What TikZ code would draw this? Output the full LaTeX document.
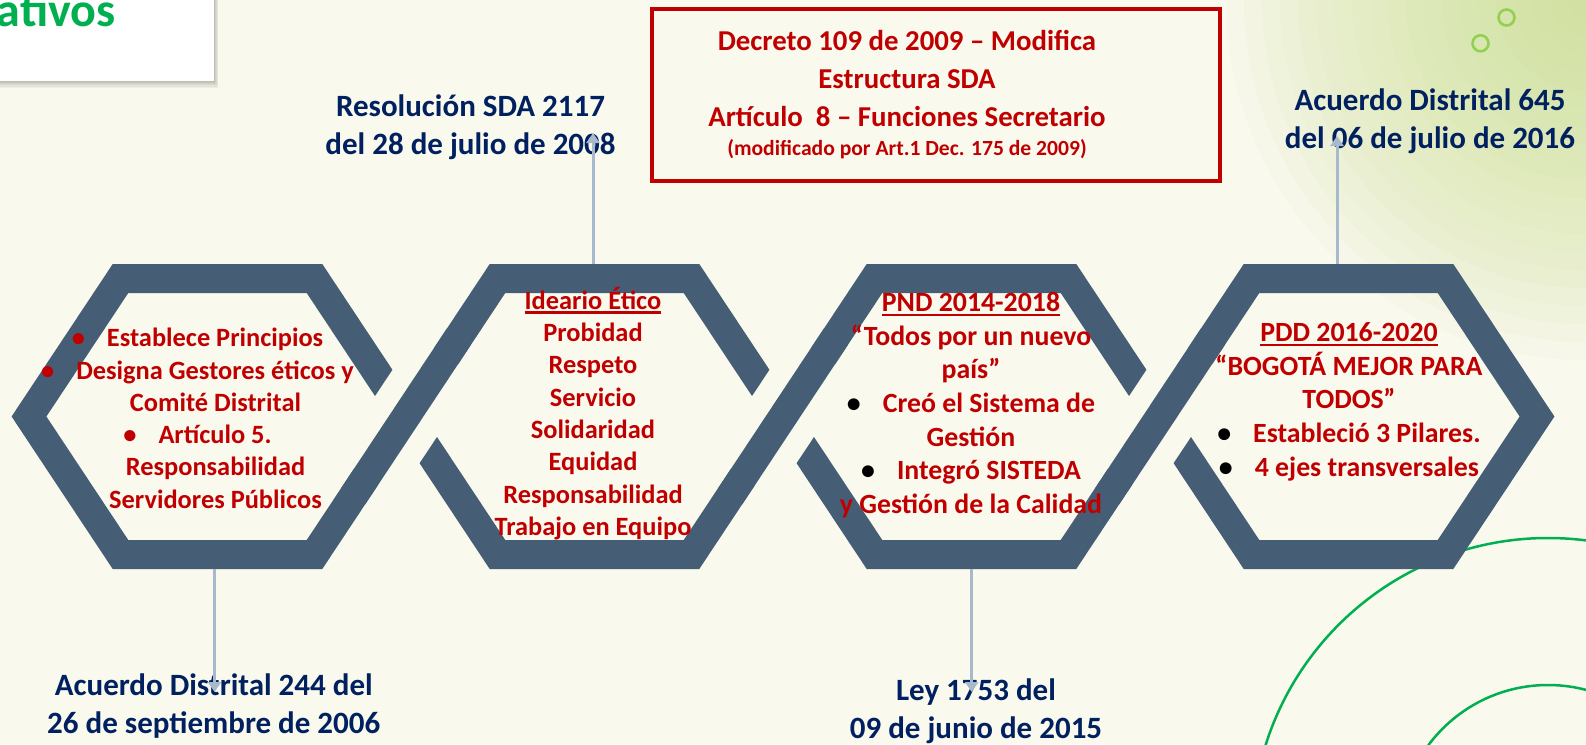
\documentclass[tikz,border=0pt]{standalone}
\usepackage{fontspec}
\setmainfont{Carlito}
\usetikzlibrary{arrows.meta}
\definecolor{fondo}{HTML}{F9F9EE}
\definecolor{hexazul}{HTML}{455E75}
\definecolor{rojo}{HTML}{C00000}
\definecolor{marino}{HTML}{002060}
\definecolor{verde}{HTML}{00B050}
\definecolor{verdeclaro}{HTML}{92D050}
\definecolor{verdetenue}{HTML}{C8DE8B}
\definecolor{enlace}{HTML}{A8B9CD}
\newcommand{\subrayar}[1]{\setbox0=\hbox{#1}\rlap{\rule[-4.3pt]{\wd0}{2.4pt}}\box0}
\tikzset{
	hexline/.style={draw=hexazul, line width=29pt, line join=miter},
	hexmask/.style={draw=fondo, line width=74pt},
	fecha/.style={font=\fontsize{31}{38}\selectfont\bfseries, text=marino, align=center, inner sep=0pt, anchor=base},
	hextxt/.style={font=\fontsize{26.4}{32.3}\selectfont\bfseries, text=rojo, align=center, inner sep=0pt, anchor=base},
	hextxtb/.style={hextxt, font=\fontsize{27.8}{33.6}\selectfont\bfseries},
	conn/.style={draw=enlace, line width=3pt, -{Triangle[length=10pt,width=13pt]}},
}
\begin{document}
\begin{tikzpicture}[x=1pt,y=-1pt]
	\useasboundingbox (0,0) rectangle (1586,744);

	% background
	\fill[fondo] (0,0) rectangle (1586,744);
	\begin{scope}
		\clip (0,0) rectangle (1586,744);
		\foreach \r in {18,36,...,360}
			\fill[verdetenue, opacity=.06] (1586,0) circle (\r);
	\end{scope}
	\draw[verdeclaro, line width=2.6pt] (1506.5,17.5) circle (8);
	\draw[verdeclaro, line width=2.6pt] (1480.5,43.3) circle (8);
	\draw[verde, line width=2.5pt] (1548,834) circle (296);
	\draw[verde, line width=2.5pt] (1548,834) circle (149);

	% title box
	\foreach \k in {1,...,6}
		\fill[black, opacity=.045] (-5,-5) rectangle (214+\k*.7,81+\k*1.1);
	\fill[white] (-5,-5) rectangle (214,81);
	\node[font=\fontsize{48}{50}\selectfont\bfseries, text=verde, anchor=base east, inner sep=0pt] (titulo) at (115.5,26) {ativos};

	% hexagons
	\foreach \c [count=\i] in {217.5,594.5,971.5,1348.5} {
		\coordinate (h\i) at (\c,416.5);
		\draw[hexline, shift={(\c,416.5)}] (-97,-138) -- (97,-138) -- (188.5,0) -- (97,138) -- (-97,138) -- (-188.5,0) -- cycle;
	};

	% crossings
	\foreach \v in {406,783,1160} {
		\draw[hexmask] (\v+39.8,356.5) -- (\v-39.8,476.5);
		\draw[hexline] (\v+53,336.5) -- (\v-53,496.5);
	};

	% texts in the hexagons (base = last line)
	\node[hextxt] (txt1) at (197.5,508.2) {%
		•\hspace{22pt}Establece Principios\\
		•\hspace{22pt}Designa Gestores éticos y\\
		\hspace*{36pt}Comité Distrital\\
		•\hspace{22pt}Artículo 5.\\
		\hspace*{36pt}Responsabilidad\\
		\hspace*{36pt}Servidores Públicos};
	\node[hextxt] (txt2) at (593,535.4) {%
		\subrayar{Ideario Ético}\\Probidad\\Respeto\\Servicio\\Solidaridad\\Equidad\\Responsabilidad\\Trabajo en Equipo};
	\node[hextxtb] (txt3) at (971,513.3) {%
		\subrayar{PND 2014-2018}\\
		“Todos por un nuevo\\
		país”\\
		{\color{black}•}\hspace{22pt}Creó el Sistema de\\
		Gestión\\
		{\color{black}•}\hspace{22pt}Integró SISTEDA\\
		y Gestión de la Calidad};
	\node[hextxtb] (txt4) at (1349,476.1) {%
		\subrayar{PDD 2016-2020}\\
		“BOGOTÁ MEJOR PARA\\
		TODOS”\\
		{\color{black}•}\hspace{22pt}Estableció 3 Pilares.\\
		{\color{black}•}\hspace{22pt}4 ejes transversales};

	% dates
	\node[fecha] (lab1) at (213.8,733.2) {Acuerdo Distrital 244 del\\26 de septiembre de 2006};
	\node[fecha] (lab2) at (470.5,154.7) {Resolución SDA 2117\\del 28 de julio de 2008};
	\node[fecha] (lab3) at (976,738.2) {Ley 1753 del\\09 de junio de 2015};
	\node[fecha] (lab4) at (1430,148.5) {Acuerdo Distrital 645\\del 06 de julio de 2016};

	% connectors
	\coordinate (h1b) at (214.5,569);  \coordinate (p1) at (214.5,692);
	\coordinate (h2t) at (593,264);    \coordinate (p2) at (593,133);
	\coordinate (h3b) at (971.7,569);  \coordinate (p3) at (971.7,692);
	\coordinate (h4t) at (1337,264);   \coordinate (p4) at (1337,136);
	\draw[conn] (h1b) -- (p1);
	\draw[conn] (h2t) -- (p2);
	\draw[conn] (h3b) -- (p3);
	\draw[conn] (h4t) -- (p4);

	% decreto box
	\node[draw=rojo, line width=4pt, minimum width=568pt, minimum height=172.6pt, inner sep=0pt] (caja) at (936,95) {};
	\node[font=\fontsize{28.8}{38.3}\selectfont\bfseries, text=rojo, align=center, inner sep=0pt, anchor=base] (decreto) at (907,126.7) {Decreto 109 de 2009 – Modifica\\Estructura SDA\\Artículo~~8 – Funciones Secretario};
	\node[font=\fontsize{21.6}{26}\selectfont\bfseries, text=rojo, inner sep=0pt, anchor=base] (nota) at (907,155) {(modificado por Art.1 Dec. 175 de 2009)};
\end{tikzpicture}
\end{document}
